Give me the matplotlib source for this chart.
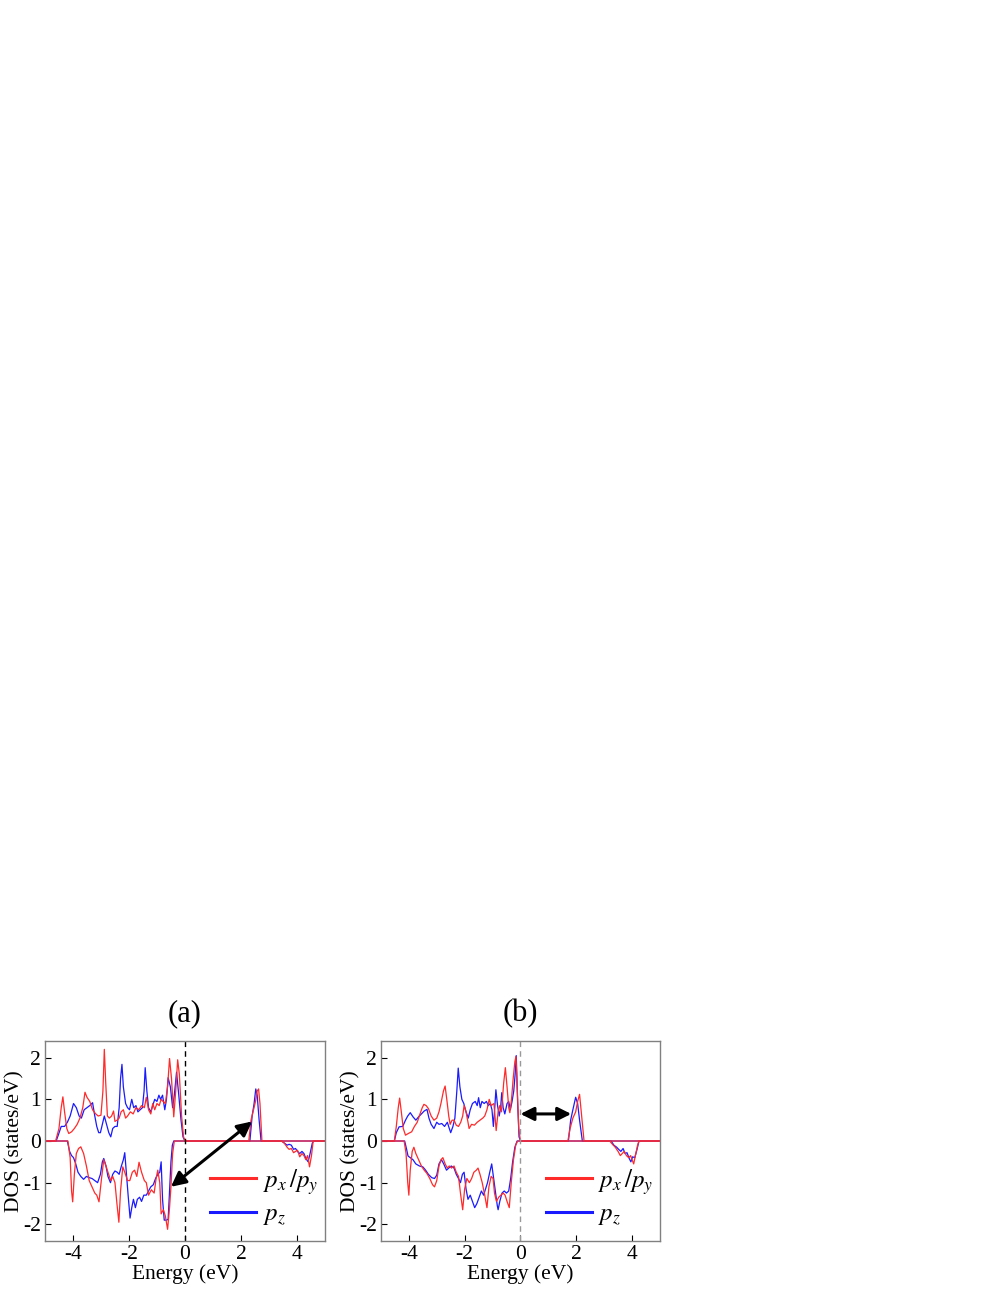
import matplotlib
matplotlib.use("Agg")
import matplotlib.pyplot as plt
from matplotlib.lines import Line2D

plt.rcParams['font.family'] = ['Liberation Serif', 'DejaVu Serif']
plt.rcParams['mathtext.fontset'] = 'stix'
plt.rcParams['axes.unicode_minus'] = False

# ---- panel (a): spin up / spin down DOS, px/py (red) and pz (blue) ----
a_up_px_e = [-5, -4.62, -4.5, -4.42, -4.36, -4.3, -4.22, -4.15, -4.05, -3.95, -3.85, -3.75, -3.65, -3.57,
             -3.5, -3.4, -3.3, -3.2, -3.1, -3.0, -2.93, -2.88, -2.83, -2.77, -2.7, -2.62, -2.55, -2.5, -2.42,
             -2.35, -2.28, -2.2, -2.12, -2.05, -1.95, -1.85, -1.75, -1.65, -1.55, -1.45, -1.38, -1.3, -1.22,
             -1.15, -1.08, -1.0, -0.92, -0.85, -0.78, -0.7, -0.62, -0.55, -0.48, -0.4, -0.33, -0.26, -0.2,
             -0.12, -0.05, 0.0, 2.28, 2.36, 2.45, 2.52, 2.58, 2.63, 2.68, 2.75, 5]
a_up_px = [0, 0, 0.3, 0.8, 1.06, 0.7, 0.3, 0.18, 0.22, 0.3, 0.4, 0.55, 0.8, 1.17,
           1.05, 0.95, 0.75, 0.66, 0.6, 0.62, 1.2, 2.2, 1.4, 0.6, 0.55, 0.6, 0.72, 0.47, 0.5,
           0.55, 0.7, 0.75, 0.55, 0.6, 0.7, 0.65, 0.8, 0.75, 0.85, 0.8, 1.05, 0.75, 0.65,
           0.9, 0.75, 0.9, 0.85, 1.0, 0.95, 0.9, 1.3, 1.98, 1.5, 0.58, 1.2, 1.95, 1.6,
           0.6, 0.1, 0, 0, 0.5, 0.75, 0.95, 1.2, 1.25, 0.9, 0, 0]

a_up_pz_e = [-5, -4.6, -4.52, -4.42, -4.3, -4.2, -4.1, -3.98, -3.88, -3.78, -3.7, -3.6, -3.5, -3.4, -3.3,
             -3.22, -3.15, -3.08, -3.02, -2.95, -2.88, -2.8, -2.72, -2.65, -2.58, -2.5, -2.42, -2.35, -2.3,
             -2.25, -2.2, -2.12, -2.05, -1.98, -1.9, -1.83, -1.75, -1.68, -1.6, -1.52, -1.46, -1.42, -1.36,
             -1.3, -1.22, -1.15, -1.08, -1.0, -0.93, -0.87, -0.8, -0.72, -0.66, -0.6, -0.52, -0.44, -0.38,
             -0.3, -0.22, -0.14, -0.07, 0.0, 2.32, 2.4, 2.47, 2.53, 2.58, 2.65, 2.72, 5]
a_up_pz = [0, 0, 0.15, 0.35, 0.35, 0.45, 0.6, 0.9, 0.8, 0.6, 0.55, 0.75, 0.8, 0.85, 0.92,
           0.6, 0.35, 0.2, 0.2, 0.4, 0.6, 0.4, 0.2, 0.1, 0.3, 0.35, 0.35, 0.8, 1.5,
           1.84, 1.3, 0.9, 0.8, 0.75, 1.0, 0.8, 0.85, 0.7, 0.75, 0.8, 1.2, 1.76, 1.2,
           0.8, 0.7, 0.85, 1.0, 0.95, 1.1, 1.0, 1.1, 0.75, 1.0, 1.52, 1.3, 0.8, 1.1,
           1.65, 1.1, 0.5, 0.1, 0, 0, 0.6, 0.9, 1.25, 1.1, 0.5, 0, 0]

a_dn_px_e = [-5, -4.18, -4.1, -4.05, -4.01, -3.95, -3.88, -3.8, -3.72, -3.62, -3.52, -3.42, -3.32, -3.22,
             -3.15, -3.07, -2.98, -2.9, -2.82, -2.75, -2.65, -2.58, -2.5, -2.43, -2.36, -2.3, -2.22, -2.15,
             -2.05, -1.97, -1.88, -1.8, -1.72, -1.64, -1.55, -1.45, -1.38, -1.3, -1.2, -1.1, -1.03, -0.97,
             -0.9, -0.85, -0.77, -0.7, -0.62, -0.55, -0.5, -0.44, -0.38, 3.45, 3.55, 3.65, 3.72, 3.8,
             3.88, 3.95, 4.02, 4.1, 4.18, 4.25, 4.32, 4.38, 4.45, 4.52, 4.58, 5]
a_dn_px = [0, 0, -0.4, -1.2, -1.46, -0.8, -0.3, -0.18, -0.14, -0.3, -0.6, -0.95, -1.1, -1.25,
           -1.3, -1.46, -0.9, -0.45, -0.6, -0.75, -0.95, -0.85, -1.0, -1.5, -1.95, -1.2, -0.62, -0.75,
           -0.95, -0.95, -0.75, -0.7, -0.85, -0.51, -0.75, -0.95, -1.0, -1.3, -1.17, -1.25, -0.9, -0.7,
           -1.0, -1.75, -1.65, -1.8, -2.12, -1.6, -1.1, -0.3, 0, 0, -0.05, -0.15, -0.2, -0.18,
           -0.28, -0.25, -0.22, -0.38, -0.3, -0.35, -0.45, -0.35, -0.62, -0.35, 0, 0]

a_dn_pz_e = [-5, -4.2, -4.12, -4.05, -3.98, -3.9, -3.82, -3.72, -3.62, -3.52, -3.42, -3.32, -3.22, -3.12,
             -3.02, -2.95, -2.9, -2.82, -2.75, -2.66, -2.58, -2.5, -2.42, -2.35, -2.27, -2.2, -2.15, -2.1,
             -2.03, -1.96, -1.9, -1.84, -1.77, -1.7, -1.62, -1.55, -1.47, -1.38, -1.3, -1.22, -1.13, -1.05,
             -0.97, -0.9, -0.85, -0.8, -0.74, -0.66, -0.6, -0.55, -0.5, -0.45, -0.4, 3.45, 3.55, 3.65,
             3.72, 3.8, 3.88, 3.95, 4.02, 4.1, 4.18, 4.25, 4.32, 4.4, 4.47, 4.55, 4.6, 5]
a_dn_pz = [0, 0, -0.25, -0.35, -0.4, -0.55, -0.75, -0.85, -0.92, -0.85, -0.88, -0.9, -0.95, -1.0,
           -0.8, -0.5, -0.42, -0.6, -0.85, -1.0, -0.8, -0.72, -0.75, -0.8, -0.6, -0.45, -0.28, -0.7,
           -1.3, -1.85, -1.6, -1.4, -1.6, -1.4, -1.35, -1.45, -1.3, -1.3, -1.2, -1.1, -1.05, -0.9,
           -0.8, -0.75, -0.5, -1.4, -1.9, -1.9, -1.88, -1.2, -0.5, -0.1, 0, 0, -0.05, -0.1,
           -0.08, -0.1, -0.2, -0.18, -0.25, -0.3, -0.25, -0.3, -0.42, -0.5, -0.3, -0.05, 0, 0]

# ---- panel (b) ----
b_up_px_e = [-5, -4.52, -4.45, -4.38, -4.33, -4.27, -4.2, -4.12, -4.02, -3.9, -3.8, -3.7, -3.6, -3.52,
             -3.46, -3.38, -3.3, -3.2, -3.1, -3.0, -2.92, -2.85, -2.76, -2.7, -2.64, -2.57, -2.52, -2.45,
             -2.38, -2.3, -2.22, -2.14, -2.07, -2.02, -1.95, -1.88, -1.84, -1.75, -1.65, -1.55, -1.45, -1.35,
             -1.28, -1.2, -1.12, -1.05, -0.95, -0.9, -0.87, -0.8, -0.74, -0.68, -0.6, -0.54, -0.48, -0.42,
             -0.38, -0.32, -0.26, -0.2, -0.16, -0.11, -0.06, 0.0, 1.7, 1.78, 1.88, 1.98, 2.05, 2.12, 2.18,
             2.28, 5]
b_up_px = [0, 0, 0.35, 0.8, 1.03, 0.7, 0.3, 0.14, 0.18, 0.22, 0.35, 0.45, 0.65, 0.8,
           0.88, 0.85, 0.78, 0.6, 0.5, 0.55, 0.7, 0.9, 1.2, 1.32, 1.0, 0.6, 0.4, 0.5,
           0.5, 0.38, 0.35, 0.45, 0.6, 0.85, 0.7, 0.45, 0.3, 0.4, 0.38, 0.45, 0.5, 0.55,
           0.6, 0.75, 1.0, 0.85, 0.9, 0.5, 0.25, 0.7, 0.85, 0.7, 1.4, 1.76, 1.3, 0.8,
           0.68, 1.0, 1.5, 1.9, 2.03, 1.2, 0.3, 0, 0, 0.3, 0.55, 0.7, 0.95, 1.12, 0.7,
           0, 0]

b_up_pz_e = [-5, -4.52, -4.45, -4.35, -4.22, -4.12, -4.04, -3.95, -3.85, -3.75, -3.65, -3.55, -3.45, -3.35,
             -3.28, -3.2, -3.1, -3.0, -2.92, -2.82, -2.72, -2.62, -2.55, -2.5, -2.42, -2.35, -2.28, -2.23,
             -2.17, -2.1, -2.03, -1.95, -1.87, -1.8, -1.72, -1.62, -1.55, -1.5, -1.44, -1.38, -1.3, -1.22,
             -1.15, -1.08, -1.02, -0.97, -0.92, -0.88, -0.82, -0.76, -0.71, -0.67, -0.62, -0.56, -0.48, -0.42,
             -0.36, -0.3, -0.24, -0.19, -0.15, -0.1, -0.05, 0.0, 1.72, 1.8, 1.88, 1.98, 2.05, 2.12, 2.22, 5]
b_up_pz = [0, 0, 0.2, 0.34, 0.35, 0.5, 0.6, 0.68, 0.58, 0.5, 0.58, 0.65, 0.72, 0.76,
           0.55, 0.4, 0.3, 0.45, 0.4, 0.42, 0.35, 0.45, 0.3, 0.2, 0.35, 0.55, 1.2, 1.75,
           1.3, 1.0, 0.9, 0.7, 0.55, 0.75, 0.9, 0.95, 0.85, 1.04, 0.8, 0.95, 0.9, 0.95,
           0.85, 0.9, 0.75, 0.35, 0.8, 1.23, 0.85, 0.6, 0.8, 1.16, 0.8, 0.65, 0.9, 0.95,
           0.75, 0.95, 1.2, 1.6, 2.05, 0.9, 0.1, 0, 0, 0.5, 0.75, 1.05, 0.9, 0.5, 0, 0]

b_dn_px_e = [-5, -4.17, -4.1, -4.04, -4.0, -3.95, -3.88, -3.82, -3.75, -3.65, -3.55, -3.45, -3.35, -3.25,
             -3.15, -3.08, -3.0, -2.92, -2.85, -2.78, -2.7, -2.62, -2.55, -2.47, -2.38, -2.3, -2.22, -2.15,
             -2.07, -2.0, -1.92, -1.83, -1.75, -1.67, -1.58, -1.52, -1.45, -1.37, -1.28, -1.2, -1.13, -1.05,
             -0.98, -0.93, -0.86, -0.78, -0.7, -0.62, -0.55, -0.48, -0.4, -0.33, -0.25, -0.17, -0.1, 3.2,
             3.3, 3.4, 3.5, 3.58, 3.65, 3.72, 3.8, 3.88, 3.95, 4.02, 4.06, 4.12, 4.2, 4.25, 5]
b_dn_px = [0, 0, -0.3, -1.0, -1.3, -0.7, -0.25, -0.15, -0.3, -0.45, -0.6, -0.7, -0.78, -0.9,
           -1.05, -1.1, -0.95, -0.6, -0.45, -0.4, -0.55, -0.65, -0.6, -0.65, -0.6, -0.75, -0.85, -1.25,
           -1.65, -1.15, -0.9, -1.0, -0.9, -0.75, -0.7, -0.65, -0.8, -1.0, -1.3, -1.6, -1.1, -0.85,
           -0.9, -1.25, -1.45, -1.35, -1.3, -1.25, -1.3, -1.45, -1.6, -1.0, -0.45, -0.1, 0, 0,
           -0.08, -0.15, -0.25, -0.35, -0.3, -0.25, -0.35, -0.4, -0.35, -0.48, -0.55, -0.35, -0.1, 0, 0]

b_dn_pz_e = [-5, -4.15, -4.08, -4.03, -3.95, -3.85, -3.75, -3.62, -3.5, -3.4, -3.3, -3.18, -3.08, -3.0,
             -2.92, -2.83, -2.75, -2.65, -2.57, -2.48, -2.38, -2.3, -2.22, -2.15, -2.08, -2.02, -1.95, -1.88,
             -1.8, -1.72, -1.64, -1.56, -1.48, -1.4, -1.32, -1.25, -1.18, -1.1, -1.03, -0.97, -0.9, -0.83,
             -0.8, -0.74, -0.66, -0.58, -0.5, -0.42, -0.35, -0.28, -0.2, -0.12, 3.25, 3.35, 3.45, 3.52,
             3.6, 3.68, 3.75, 3.82, 3.9, 3.96, 4.02, 4.1, 4.18, 4.25, 5]
b_dn_pz = [0, 0, -0.2, -0.36, -0.4, -0.45, -0.55, -0.6, -0.62, -0.7, -0.8, -0.88, -0.9, -0.82,
           -0.55, -0.45, -0.55, -0.7, -0.65, -0.6, -0.65, -0.8, -0.9, -1.0, -0.8, -0.75, -1.15, -1.4,
           -1.3, -1.45, -1.6, -1.5, -1.35, -1.2, -1.3, -1.15, -1.0, -0.75, -0.55, -0.85, -1.2, -1.55,
           -1.65, -1.45, -1.25, -1.2, -1.25, -1.2, -0.9, -0.5, -0.15, 0, 0, -0.1, -0.15, -0.2,
           -0.25, -0.18, -0.3, -0.28, -0.42, -0.5, -0.38, -0.4, -0.2, 0, 0]

panel_titles = ['(a)', '(b)']
x_ticks = [-4, -2, 0, 2, 4]
y_ticks = [-2, -1, 0, 1, 2]
legend_labels = [r'$p_x\,/p_y$', r'$p_z$']

RED = '#ff2a2a'
BLUE = '#1a1aff'

fig = plt.figure(figsize=(9.97, 12.9), dpi=100)
ax_a = fig.add_axes([0.0451, 0.038, 0.2808, 0.155])
ax_b = fig.add_axes([0.3821, 0.038, 0.2798, 0.155])

panels = [
    (ax_a, a_up_px_e, a_up_px, a_up_pz_e, a_up_pz, a_dn_px_e, a_dn_px, a_dn_pz_e, a_dn_pz, 'black'),
    (ax_b, b_up_px_e, b_up_px, b_up_pz_e, b_up_pz, b_dn_px_e, b_dn_px, b_dn_pz_e, b_dn_pz, '#999999'),
]

for i, (ax, upx_e, upx, upz_e, upz, dpx_e, dpx, dpz_e, dpz, vcol) in enumerate(panels):
    ax.plot(upz_e, upz, color=BLUE, lw=0.9)
    ax.plot(dpz_e, dpz, color=BLUE, lw=0.9)
    ax.plot(upx_e, upx, color=RED, lw=0.9)
    ax.plot(dpx_e, dpx, color=RED, lw=0.9)
    ax.axvline(0, color=vcol, lw=1.0, ls=(0, (4, 3)))

    ax.set_xlim(-5, 5)
    ax.set_ylim(-2.4, 2.4)
    ax.set_xticks(x_ticks)
    ax.set_yticks(y_ticks)
    ax.tick_params(direction='in', length=4, width=0.8, labelsize=15.5, pad=3,
                   top=False, right=False)
    for sp in ax.spines.values():
        sp.set_color('#808080')
        sp.set_linewidth(1.0)
    ax.set_xlabel('Energy (eV)', fontsize=15.5, labelpad=0)
    ax.set_ylabel('DOS (states/eV)', fontsize=15.5, labelpad=-1)
    ax.set_title(panel_titles[i], fontsize=22, pad=14)

    handles = [Line2D([], [], color=RED, lw=2.2), Line2D([], [], color=BLUE, lw=2.2)]
    ax.legend(handles, legend_labels, loc='center left', bbox_to_anchor=(0.51, 0.22),
              frameon=False, fontsize=18, handlelength=1.85, handletextpad=0.25,
              labelspacing=0.25)

# transition arrows
ax_a.annotate('', xy=(-0.5, -1.1), xytext=(2.4, 0.47),
              arrowprops=dict(arrowstyle='<|-|>', color='black', lw=2.2,
                              mutation_scale=22, shrinkA=0, shrinkB=0))
ax_b.annotate('', xy=(0.0, 0.65), xytext=(1.82, 0.65),
              arrowprops=dict(arrowstyle='<|-|>', color='black', lw=2.2,
                              mutation_scale=20, shrinkA=0, shrinkB=0))

fig.savefig('out.png', dpi=100)
